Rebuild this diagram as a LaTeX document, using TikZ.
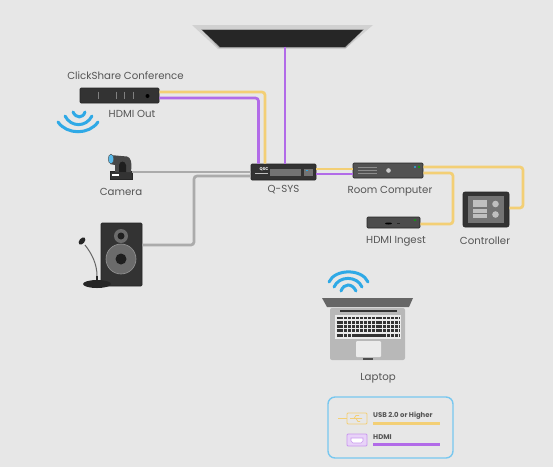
\documentclass[tikz,border=0pt]{standalone}
\usepackage{fontspec}
\setmainfont{Poppins}
\usetikzlibrary{calc}
\definecolor{bggray}{HTML}{E7E7E7}
\definecolor{usbyellow}{HTML}{F3CF75}
\definecolor{hdmipurple}{HTML}{B26BE8}
\definecolor{cablegray}{HTML}{ABABAB}
\definecolor{wifiblue}{HTML}{2FA9E6}
\definecolor{devdark}{HTML}{333333}
\definecolor{textgray}{HTML}{555555}
\tikzstyle{device} = [rectangle, rounded corners=1pt, inner sep=0pt, draw=black!85, line width=0.6pt, fill=devdark]
\tikzstyle{tag} = [text=textgray, font=\fontsize{10.2}{12}\selectfont, inner sep=0pt]
\tikzstyle{keytext} = [text=textgray, font=\fontsize{6.9}{8}\selectfont\bfseries, inner sep=0pt, anchor=west]
\tikzstyle{usb} = [usbyellow, line width=2.7pt, rounded corners=3pt]
\tikzstyle{hdmi} = [hdmipurple, line width=2.7pt, rounded corners=3pt]
\tikzstyle{cable} = [cablegray, line width=2.7pt, rounded corners=3pt]
\tikzstyle{wifi} = [wifiblue, line width=3pt, line cap=round]
\tikzstyle{keycap} = [black!80, line width=2.6pt, dash pattern=on 3pt off 0.9pt]

\begin{document}
\begin{tikzpicture}[x=1pt, y=-1pt, node distance=14pt]
\useasboundingbox (0,0) rectangle (553,467);
\fill [bggray] (0,0) rectangle (553,467);

% ceiling speaker
\fill [black!18] (192,25) -- (373,25) -- (345,49) -- (218,49) -- cycle;
\fill [black!35] (201,29) -- (364,29) -- (346,48) -- (219,48) -- cycle;
\node (ceiling) [inner sep=0pt, minimum width=125pt, minimum height=17pt] at (285,38) {};
\fill [black!85] (202,30) -- (363,30) -- (345,47) -- (220,47) -- cycle;

% devices
\node (click) [device, minimum width=79pt, minimum height=15pt] at (119.5,95.5) {};
\node (qsys) [device, minimum width=65pt, minimum height=16pt] at (283.5,172) {};
\node (room) [device, minimum width=70pt, minimum height=15pt, fill=black!68] at (388,170.5) {};
\node (ingest) [device, minimum width=53pt, minimum height=11pt, fill=black!70] at (393.5,222.5) {};
\node (control) [device, minimum width=46pt, minimum height=35pt, rounded corners=2pt] at (486,209.5) {};
\node (camera) [inner sep=0pt, minimum width=22pt, minimum height=8pt, rectangle, fill=devdark, draw=black!85] at (121,175) {};
\node (speaker) [device, minimum width=41pt, minimum height=63pt] at (121.5,254.5) {};

% labels
\node (clicktag) [tag, above of=click, xshift=6pt, yshift=5.5pt] {ClickShare Conference};
\node (hdmiout) [tag, below of=click, xshift=12.5pt, yshift=-4.5pt] {HDMI Out};
\node (cameratag) [tag, below of=camera, yshift=-3pt] {Camera};
\node (qsystag) [tag, below of=qsys, yshift=-4pt] {Q-SYS};
\node (roomtag) [tag, below of=room, xshift=2pt, yshift=-6.5pt] {Room Computer};
\node (ingesttag) [tag, below of=ingest, xshift=2.5pt, yshift=-4.5pt] {HDMI Ingest};
\node (controltag) [tag, below of=control, xshift=-1pt, yshift=-17.5pt] {Controller};
\node (laptoptag) at (378,378) [tag] {Laptop};

% bends of the cables
\coordinate (bendusb) at (265,120);
\coordinate (bendhdmi) at (258.5,120);
\coordinate (bendspk) at (194,210);
\coordinate (bendctl) at (523,190);
\coordinate (bending) at (453,200);

\draw [hdmi] ([yshift=-2.5pt]click.east) -| (bendhdmi) -- (bendhdmi |- qsys.north);
\draw [usb] ([yshift=3.5pt]click.east) -| (bendusb) -- (bendusb |- qsys.north);
\draw [hdmi] (ceiling.south) -- (ceiling.south |- qsys.north);
\draw [cable] (camera.east |- 0,172) -- (qsys.west |- 0,172);
\draw [cable] ([yshift=9.5pt]speaker.east) -| (bendspk) |- ([yshift=-4pt]qsys.west);
\draw [usb] ([yshift=3pt]qsys.east) -- ([yshift=1.5pt]room.west);
\draw [hdmi] ([yshift=-2pt]qsys.east) -- ([yshift=-3.5pt]room.west);
\draw [usb] ([yshift=3.5pt]room.east) -| (bendctl) |- ([yshift=1.5pt]control.east);
\draw [usb] ([yshift=-2.5pt]room.east) -| (bending) |- ([yshift=-1.5pt]ingest.east);

% q-sys front
\node (qsyslogo) [text=white, font=\fontsize{4}{4}\selectfont\bfseries, inner sep=0pt] at (264,169.5) {QSC};
\fill [black!55] (270,168.5) rectangle (301,175.5);
\fill [black!55] (304,168.5) rectangle (313,175.5);
\fill [wifiblue] (305.5,169.5) rectangle (307.5,171);
\fill [black!25] (255,172.5) rectangle (268,174);

% clickshare front
\foreach \px in {98,116,124,133}
  \draw [black!50, line width=0.6pt] (\px,91.5) -- (\px,98.5);
\fill [black] (147.5,96) circle (2pt);

% room computer front
\foreach \py in {167,170,173}
  \draw [black!45, line width=0.7pt] (358,\py) -- (377,\py);
\fill [black!20] (388.5,170.5) circle (2.3pt);
\fill [wifiblue] (415,167) circle (1.2pt);
\fill [green!70!black] (419,167) circle (1.2pt);

% ingest front
\fill [black] (388.5,223.5) ellipse (3.5pt and 1pt);
\draw [black!85] (397,223.5) -- (400,223.5);
\fill [green!70!black] (415,220) circle (1pt);

% controller panel
\fill [black!55] (468,196) rectangle (504,223);
\fill [black!25] (473,200) rectangle (487,207);
\fill [black!25] (473,209) rectangle (487,212.5);
\fill [black!25] (473,214) rectangle (487,218);
\fill [black!25] (495.5,204) circle (3.3pt);
\fill [black!25] (495.5,214.5) circle (3.3pt);

% camera head
\fill [black!72] (110,155) -- (127,156.5) .. controls (131,157.5) and (132,162) .. (131,172) -- (115,172) -- (115,165) -- (110,164) -- cycle;
\fill [black!88] (119,172) -- (119,165) .. controls (120,160.5) and (125,160.5) .. (126,165) -- (126,172) -- cycle;
\fill [wifiblue!80!white, draw=black!70] (111,159) ellipse (2.8pt and 4.8pt);
\fill [white] (112,174) rectangle (119,176);

% speaker cones
\fill [black!58] (121,236) circle (7pt);
\fill [black!88] (121,236) circle (3.5pt);
\fill [black!58, draw=black!42, line width=0.6pt] (121,259) circle (15pt);
\fill [black!88] (121,259) circle (5.5pt);

% microphone
\fill [black!85] (97,284) ellipse (14pt and 4pt);
\draw [black!85, line width=2pt] (97,276) -- (97,282);
\draw [black!60, line width=1pt] (85,245) .. controls (92,254) and (97,264) .. (97,276);
\fill [black!85, rotate around={-40:(82,241)}] (82,241) ellipse (2.6pt and 4.2pt);

% wifi, left
\draw [wifi] (73,112) .. controls (76,118.5) and (83,118.5) .. (85,112);
\draw [wifi] (65,116) .. controls (71,127.5) and (86,127.5) .. (92,116);
\draw [wifi] (58,122) .. controls (67,135) and (89,135) .. (98,122);

% wifi, laptop
\draw [wifi] (341,291) .. controls (344,283) and (352,283) .. (356,291);
\draw [wifi] (334,287) .. controls (339,275.5) and (357,275.5) .. (362,287);
\draw [wifi] (329,282) .. controls (335,268.5) and (362,268.5) .. (368,282);

% laptop
\fill [black!60] (322,298) -- (413,298) -- (409,307) -- (327,307) -- cycle;
\fill [black!28, rounded corners=2pt] (330,308) rectangle (405,360);
\fill [black!80] (340,309.5) rectangle (397,311.5);
\fill [black!8] (335,315) rectangle (401,339);
\foreach \py in {318,322.2,326.4,330.6}
  \draw [keycap] (336.5,\py) -- (399.5,\py);
\draw [keycap] (336.5,335.3) -- (351,335.3);
\draw [black!80, line width=2.8pt] (352,335.3) -- (386,335.3);
\draw [keycap] (387,335.3) -- (399.5,335.3);
\fill [black!8, rounded corners=1pt] (356,341) rectangle (381,357);
\fill [black!70] (363,358) rectangle (373,359.5);

% legend
\node (legend) [rectangle, rounded corners=7pt, draw=wifiblue!65!white, line width=1.4pt, minimum width=125pt, minimum height=61pt, inner sep=0pt] at (390.5,427.5) {};
\node (usbtext) [keytext] at (373,416) {USB 2.0 or Higher};
\node (hdmitext) [keytext] at (373,437) {HDMI};
\draw [usbyellow, line width=2.2pt] (373,423.5) -- (440,423.5);
\draw [hdmipurple, line width=2.2pt] (373,444.5) -- (440,444.5);

% usb and hdmi icons
\draw [usbyellow, line width=0.9pt, rounded corners=1pt] (347,413) rectangle (367,424);
\draw [usbyellow, line width=0.9pt] (338,418.5) -- (347,418.5);
\draw [usbyellow, line width=0.8pt] (350,418.5) -- (362,418.5) (354,418.5) -- (356,415.5) -- (359,415.5) (356,418.5) -- (358,421.5) -- (360,421.5);
\fill [hdmipurple!30, draw=hdmipurple!70, line width=0.9pt, rounded corners=1pt] (347,434) rectangle (367,446);
\fill [white, draw=hdmipurple!70, line width=0.6pt] (351,438) -- (363,438) -- (363,441) -- (361,443) -- (353,443) -- (351,441) -- cycle;

\end{tikzpicture}
\end{document}
